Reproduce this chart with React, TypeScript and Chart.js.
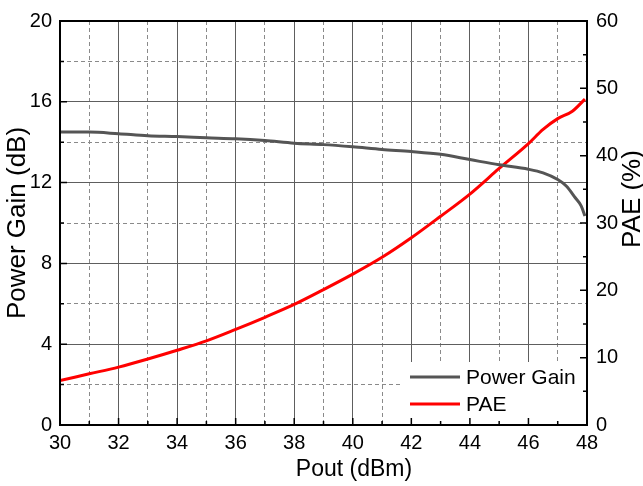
import React, { useEffect, useRef } from 'react';
import { Chart, registerables } from 'chart.js';

Chart.register(...registerables);

const FONT = "'Liberation Sans', Arial, Helvetica, sans-serif";

// Power Gain (dB) vs Pout (dBm)
const gainPout = [30, 31, 32, 33, 34, 35, 36, 37, 38, 39, 40, 41, 42, 43, 44, 45, 46, 46.5, 47, 47.3, 47.6, 47.8, 47.93];
const gainValues = [14.5, 14.5, 14.42, 14.32, 14.28, 14.22, 14.17, 14.08, 13.95, 13.88, 13.77, 13.64, 13.54, 13.4, 13.14, 12.88, 12.66, 12.48, 12.15, 11.82, 11.25, 10.85, 10.35];

// PAE (%) vs Pout (dBm)
const paePout = [30, 31, 32, 33, 34, 35, 36, 37, 38, 39, 40, 41, 42, 43, 44, 45, 46, 46.5, 47, 47.5, 47.93];
const paeValues = [6.6, 7.6, 8.6, 9.8, 11.1, 12.5, 14.2, 16.0, 17.9, 20.1, 22.4, 24.9, 27.8, 31.0, 34.3, 38.1, 41.8, 43.9, 45.5, 46.6, 48.4];

const seriesNames = ['Power Gain', 'PAE'];
const seriesColors = ['#555555', '#ff0000'];

const xTitle = 'Pout (dBm)';
const yTitle = 'Power Gain (dB)';
const y1Title = 'PAE (%)';

const xRange = [30, 48];
const yRange = [0, 20];
const y1Range = [0, 60];

export default function App() {
  const ref = useRef<HTMLCanvasElement | null>(null);

  useEffect(() => {
    if (!ref.current) return;

    const decor = {
      id: 'decor',
      beforeDatasetsDraw(chart: any) {
        const ctx = chart.ctx;
        const a = chart.chartArea;
        ctx.save();
        ctx.fillStyle = '#ffffff';
        ctx.fillRect(403, 362, a.right - 403, a.bottom - 362);
        ctx.restore();
      },
      afterDatasetsDraw(chart: any) {
        const ctx = chart.ctx;
        ctx.save();
        const rows = [377, 404];
        seriesNames.forEach((name, i) => {
          ctx.strokeStyle = seriesColors[i];
          ctx.lineWidth = 3;
          ctx.beginPath();
          ctx.moveTo(410, rows[i]);
          ctx.lineTo(460, rows[i]);
          ctx.stroke();
          ctx.fillStyle = '#000';
          ctx.font = `21px ${FONT}`;
          ctx.textAlign = 'left';
          ctx.textBaseline = 'middle';
          ctx.fillText(name, 466, rows[i] + 1);
        });
        ctx.restore();
      },
      afterDraw(chart: any) {
        const ctx = chart.ctx;
        const a = chart.chartArea;
        const xs = chart.scales.x;
        const ys = chart.scales.y;
        const y1s = chart.scales.y1;
        ctx.save();
        // inward ticks
        ctx.strokeStyle = '#000';
        ctx.lineWidth = 1.5;
        ctx.beginPath();
        for (let v = xRange[0]; v <= xRange[1]; v += 1) {
          const px = xs.getPixelForValue(v);
          const len = v % 2 === 0 ? 7 : 4;
          ctx.moveTo(px, a.bottom);
          ctx.lineTo(px, a.bottom - len);
        }
        for (let v = yRange[0]; v <= yRange[1]; v += 2) {
          const py = ys.getPixelForValue(v);
          const len = v % 4 === 0 ? 7 : 4;
          ctx.moveTo(a.left, py);
          ctx.lineTo(a.left + len, py);
        }
        for (let v = y1Range[0]; v <= y1Range[1]; v += 5) {
          const py = y1s.getPixelForValue(v);
          const len = v % 10 === 0 ? 7 : 4;
          ctx.moveTo(a.right, py);
          ctx.lineTo(a.right - len, py);
        }
        ctx.stroke();
        // frame
        ctx.lineWidth = 2;
        ctx.strokeRect(a.left, a.top, a.right - a.left, a.bottom - a.top);
        // titles
        ctx.fillStyle = '#000';
        ctx.textAlign = 'center';
        ctx.textBaseline = 'middle';
        ctx.font = `23px ${FONT}`;
        ctx.fillText(xTitle, 354, 470);
        ctx.translate(633, 199);
        ctx.rotate(-Math.PI / 2);
        ctx.font = `26px ${FONT}`;
        ctx.fillText(y1Title, 0, 0);
        ctx.restore();
      },
    };

    const chart = new Chart(ref.current, {
      type: 'line',
      data: {
        datasets: [
          {
            label: seriesNames[0],
            data: gainPout.map((x, i) => ({ x, y: gainValues[i] })),
            borderColor: seriesColors[0],
            backgroundColor: seriesColors[0],
            borderWidth: 3,
            pointRadius: 0,
            tension: 0.4,
            cubicInterpolationMode: 'monotone',
            yAxisID: 'y',
          },
          {
            label: seriesNames[1],
            data: paePout.map((x, i) => ({ x, y: paeValues[i] })),
            borderColor: seriesColors[1],
            backgroundColor: seriesColors[1],
            borderWidth: 3,
            pointRadius: 0,
            tension: 0.4,
            cubicInterpolationMode: 'monotone',
            yAxisID: 'y1',
          },
        ],
      },
      options: {
        responsive: false,
        animation: false,
        layout: { padding: { top: 15, left: 0, right: 0, bottom: 0 } },
        plugins: { legend: { display: false }, tooltip: { enabled: false } },
        scales: {
          x: {
            type: 'linear',
            min: xRange[0],
            max: xRange[1],
            afterFit: (s: any) => { s.height = 61; },
            ticks: {
              stepSize: 1,
              autoSkip: false,
              maxRotation: 0,
              padding: 6,
              color: '#000',
              font: { size: 20, family: FONT },
              callback: (v: any) => (Number(v) % 2 === 0 ? String(v) : ''),
            },
            grid: {
              drawTicks: false,
              lineWidth: 1,
              color: (c: any) => (c.tick && c.tick.value % 2 === 0 ? '#5e5e5e' : '#8a8a8a'),
            },
            border: {
              display: false,
              dash: (c: any) => (c.tick && c.tick.value % 2 !== 0 ? [4, 3] : []),
            },
          },
          y: {
            type: 'linear',
            position: 'left',
            min: yRange[0],
            max: yRange[1],
            afterFit: (s: any) => { s.width = 60; },
            title: {
              display: true,
              text: yTitle,
              color: '#000',
              font: { size: 26, family: FONT },
              padding: { top: 2, bottom: 0 },
            },
            ticks: {
              stepSize: 2,
              autoSkip: false,
              padding: 8,
              color: '#000',
              font: { size: 20, family: FONT },
              callback: (v: any) => (Number(v) % 4 === 0 ? String(v) : ''),
            },
            grid: {
              drawTicks: false,
              lineWidth: 1,
              color: (c: any) => (c.tick && c.tick.value % 4 === 0 ? '#5e5e5e' : '#8a8a8a'),
            },
            border: {
              display: false,
              dash: (c: any) => (c.tick && c.tick.value % 4 !== 0 ? [4, 3] : []),
            },
          },
          y1: {
            type: 'linear',
            position: 'right',
            min: y1Range[0],
            max: y1Range[1],
            afterFit: (s: any) => { s.width = 56; },
            ticks: {
              stepSize: 5,
              autoSkip: false,
              padding: 9,
              color: '#000',
              font: { size: 20, family: FONT },
              callback: (v: any) => (Number(v) % 10 === 0 ? String(v) : ''),
            },
            grid: { drawOnChartArea: false, drawTicks: false },
            border: { display: false },
          },
        },
      },
      plugins: [decor],
    } as any);

    return () => chart.destroy();
  }, []);

  return (
    <div style={{ position: 'absolute', left: 0, top: 0, width: 643, height: 486 }}>
      <canvas ref={ref} width={643} height={486} style={{ display: 'block' }} />
    </div>
  );
}
